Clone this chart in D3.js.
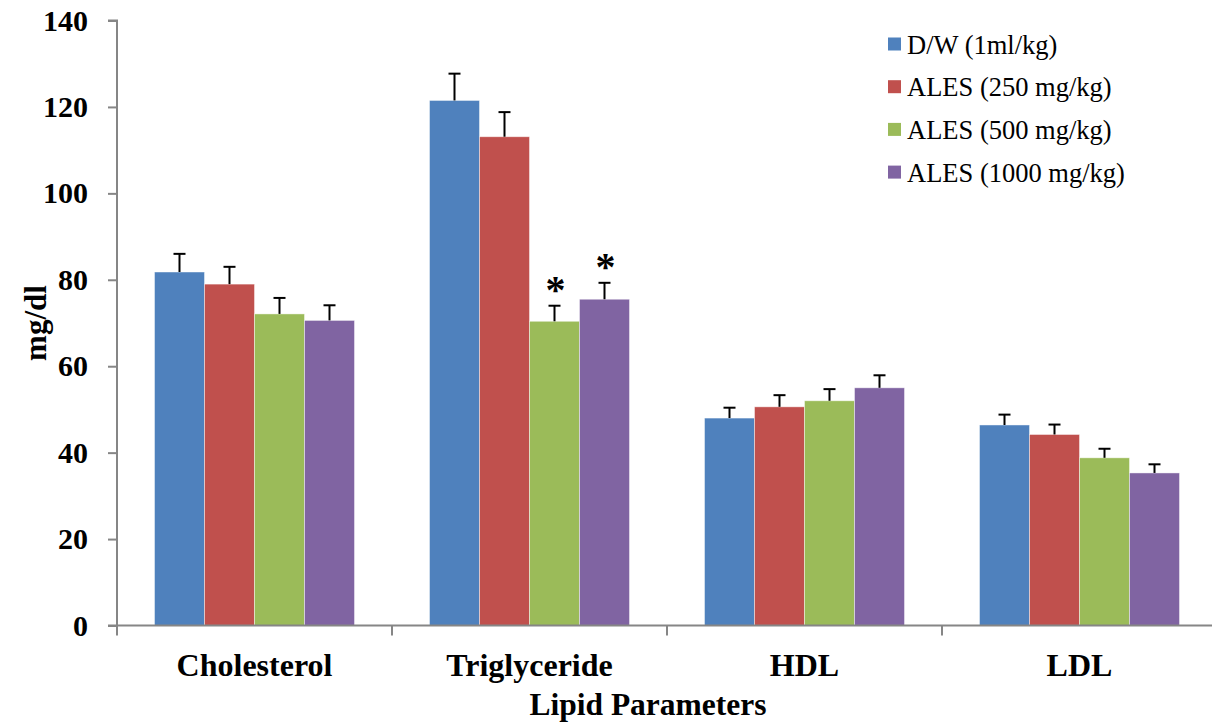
<!DOCTYPE html>
<html>
<head>
<meta charset="utf-8">
<script src="https://cdn.jsdelivr.net/npm/d3@7"></script>
<style>
  html, body { margin: 0; padding: 0; background: #fff; }
  svg { display: block; }
  text { font-family: "Liberation Serif", "Times New Roman", serif; fill: #000; }
</style>
</head>
<body>
<svg id="chart" width="1212" height="723"></svg>
<script>
const categories = ["Cholesterol", "Triglyceride", "HDL", "LDL"];
const seriesNames = ["D/W (1ml/kg)", "ALES (250 mg/kg)", "ALES (500 mg/kg)", "ALES (1000 mg/kg)"];
const seriesColors = ["#4F81BD", "#C0504D", "#9BBB59", "#8064A2"];
// values per series, in category order
const dwValues      = [81.8, 121.5, 48.0, 46.4];
const ales250Values = [79.0, 113.1, 50.6, 44.2];
const ales500Values = [72.1, 70.4, 52.0, 38.8];
const ales1000Values= [70.6, 75.5, 55.0, 35.3];
// error (SEM) per series
const dwErr      = [4.2, 6.2, 2.4, 2.4];
const ales250Err = [4.0, 5.7, 2.7, 2.3];
const ales500Err = [3.7, 3.6, 2.7, 2.1];
const ales1000Err= [3.5, 3.8, 2.9, 2.0];
// significance markers
const significant = [
  { category: "Triglyceride", series: 2 },
  { category: "Triglyceride", series: 3 }
];
const yTicks = [0, 20, 40, 60, 80, 100, 120, 140];

const allValues = [dwValues, ales250Values, ales500Values, ales1000Values];
const allErr = [dwErr, ales250Err, ales500Err, ales1000Err];

const svg = d3.select("#chart");
const mLeft = 117, mTop = 20.5, mBottom = 625.5, mRight = 1217;

const x = d3.scaleBand().domain(categories).range([mLeft, mRight]).paddingInner(0).paddingOuter(0);
const xs = d3.scaleBand().domain(d3.range(seriesNames.length)).range([0, x.bandwidth()]).paddingInner(0).paddingOuter(0.75);
const y = d3.scaleLinear().domain([0, 140]).range([mBottom, mTop]);

const data = [];
categories.forEach((c, ci) => {
  seriesNames.forEach((s, si) => {
    data.push({ c, si, v: allValues[si][ci], e: allErr[si][ci] });
  });
});

// bars
svg.append("g").selectAll("rect").data(data).join("rect")
  .attr("x", d => x(d.c) + xs(d.si))
  .attr("y", d => y(d.v))
  .attr("width", xs.bandwidth())
  .attr("height", d => y(0) - y(d.v))
  .attr("fill", d => seriesColors[d.si])
  .attr("stroke", "rgba(255,255,255,0.55)")
  .attr("stroke-width", 0.8);

// error bars
const eg = svg.append("g").attr("stroke", "#000").attr("stroke-width", 2);
data.forEach(d => {
  const cx = x(d.c) + xs(d.si) + xs.bandwidth() / 2;
  eg.append("line").attr("x1", cx).attr("x2", cx).attr("y1", y(d.v)).attr("y2", y(d.v + d.e));
  eg.append("line").attr("x1", cx - 6).attr("x2", cx + 6).attr("y1", y(d.v + d.e)).attr("y2", y(d.v + d.e));
});

// significance asterisks
significant.forEach(m => {
  const ci = categories.indexOf(m.category);
  const v = allValues[m.series][ci] + allErr[m.series][ci];
  const cx = x(m.category) + xs(m.series) + xs.bandwidth() / 2;
  svg.append("text")
    .attr("x", cx + 1).attr("y", y(v) - 3)
    .attr("text-anchor", "middle")
    .attr("font-size", 40).attr("font-weight", "bold")
    .text("*");
});

// y axis
const yAxis = svg.append("g").attr("transform", `translate(${mLeft},0)`)
  .call(d3.axisLeft(y).tickValues(yTicks).tickSize(9).tickPadding(20).tickFormat(d3.format("d")));
yAxis.selectAll("path, line").attr("stroke", "#868686").attr("stroke-width", 2);
yAxis.select(".domain").attr("d", `M-9,${mTop}H0V${mBottom}H-9`);
yAxis.selectAll("text")
  .attr("font-family", "'Liberation Serif', 'Times New Roman', serif")
  .attr("font-size", 30).attr("font-weight", "bold").attr("fill", "#000");

// x axis line and category ticks
const xg = svg.append("g").attr("stroke", "#868686").attr("stroke-width", 2);
xg.append("line").attr("x1", mLeft).attr("x2", mRight).attr("y1", mBottom).attr("y2", mBottom);
categories.forEach(c => {
  xg.append("line").attr("x1", x(c)).attr("x2", x(c)).attr("y1", mBottom).attr("y2", mBottom + 10);
});
xg.append("line").attr("x1", mRight).attr("x2", mRight).attr("y1", mBottom).attr("y2", mBottom + 10);

// category labels
svg.append("g").selectAll("text").data(categories).join("text")
  .attr("x", d => x(d) + x.bandwidth() / 2)
  .attr("y", 676)
  .attr("text-anchor", "middle")
  .attr("font-size", 32).attr("font-weight", "bold")
  .text(d => d);

// axis titles
svg.append("text")
  .attr("x", 648).attr("y", 715)
  .attr("text-anchor", "middle")
  .attr("font-size", 31.5).attr("font-weight", "bold")
  .text("Lipid Parameters");

svg.append("text")
  .attr("transform", "translate(46,323) rotate(-90)")
  .attr("text-anchor", "middle")
  .attr("font-size", 31).attr("font-weight", "bold")
  .text("mg/dl");

// legend
const lg = svg.append("g").attr("transform", "translate(888,44)");
seriesNames.forEach((s, i) => {
  const row = lg.append("g").attr("transform", `translate(0,${i * 42.7})`);
  row.append("rect").attr("x", 0).attr("y", -6.5).attr("width", 13).attr("height", 13).attr("fill", seriesColors[i]);
  row.append("text").attr("x", 19).attr("y", 9.5).attr("font-size", 26.5).text(s);
});
</script>
</body>
</html>
